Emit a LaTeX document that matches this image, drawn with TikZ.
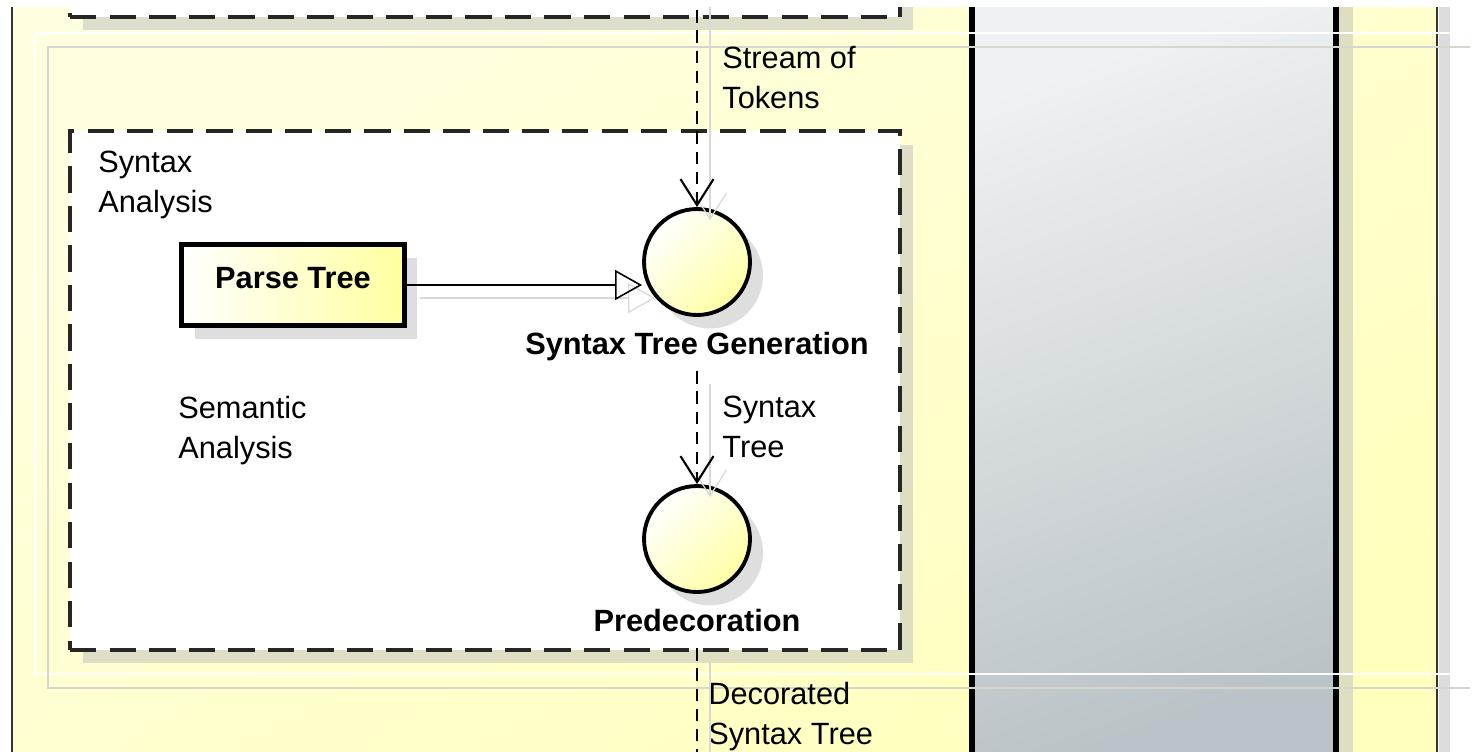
\documentclass[tikz,border=0pt]{standalone}
\usepackage{fontspec}
\setmainfont{Liberation Sans}
\usetikzlibrary{arrows.meta,positioning,shadows}
\definecolor{laneyellowlt}{RGB}{255,255,224}
\definecolor{laneyellowdk}{RGB}{255,255,190}
\definecolor{lanegraylt}{RGB}{239,241,242}
\definecolor{lanegraydk}{RGB}{186,195,199}
\definecolor{objyellow}{RGB}{255,255,160}
\definecolor{actyellow}{RGB}{255,255,165}
\definecolor{shadowgray}{RGB}{190,190,190}
\definecolor{framegray}{RGB}{214,214,204}
\definecolor{khaki}{RGB}{222,222,192}
\definecolor{edgegray}{RGB}{220,220,220}
\newcommand{\dgmfont}{\fontsize{17.5pt}{22.5pt}\selectfont}
\tikzset{
  font=\dgmfont,
  umlshadow/.style={drop shadow={shadow xshift=0.26cm, shadow yshift=-0.27cm,
                    fill=shadowgray, opacity=0.5}},
  region/.style={draw=black!85, dash pattern=on 15pt off 7.5pt,
                 line width=1.9pt, fill=white, umlshadow},
  objbox/.style={draw, line width=2.8pt, left color=white, right color=objyellow,
                 minimum width=4.46cm, minimum height=1.62cm, font=\dgmfont\bfseries,
                 text height=0.44cm, text depth=0.32cm, umlshadow},
  action/.style={circle, draw, line width=2.2pt, inner sep=0pt, minimum size=2.12cm,
                 top color=white, bottom color=actyellow, shading angle=45, umlshadow},
  caption/.style={font=\dgmfont\bfseries, inner sep=0pt},
  lbl/.style={align=left, inner sep=0pt, anchor=north west},
  flowshadow/.style={preaction={draw=shadowgray!60, solid, line width=0.7pt,
                     transform canvas={shift={(0.26cm,-0.26cm)}}}},
  flow/.style={-{Straight Barb[length=0.52cm, width=0.66cm]}, line width=1.2pt,
               dash pattern=on 7pt off 4.5pt, flowshadow},
  objarr/.style={-{Triangle[open, length=0.54cm, width=0.6cm]}, line width=0.9pt, flowshadow},
}

\begin{document}
\begin{tikzpicture}[x=0.02cm, y=-0.02cm]
  \useasboundingbox (0,0) rectangle (1476,751);
  \clip (0,7) rectangle (1476,751);
  % swimlanes
  \fill[top color=laneyellowlt, bottom color=laneyellowdk, shading angle=30] (13,7) rectangle (1437,760);
  \fill[top color=lanegraylt, bottom color=lanegraydk, shading angle=20] (972,7) rectangle (1336,760);
  \fill[khaki] (1339,7) rectangle (1353,760);
  \fill[edgegray] (1439,7) rectangle (1450,760);
  \draw[black!80, line width=1.2pt] (12,7) -- (12,760);
  \draw[black!80, line width=1.2pt] (1437,7) -- (1437,760);
  \draw[line width=3.4pt] (972,7) -- (972,760);
  \draw[line width=3.4pt] (1336,7) -- (1336,760);
  \draw[white, line width=1.2pt] (1450,33) -- (35,33) -- (35,674) -- (1450,674);
  \draw[framegray, line width=1.1pt] (1470,47) -- (48,47) -- (48,688) -- (1470,688);

  % partitions
  \node[region, minimum width=16.6cm, minimum height=4cm] (lexframe) at (485,-83) {};
  \node[region, minimum width=16.6cm, minimum height=10.38cm] (synframe) at (485,390.5) {};

  \node[objbox] (parse) at (293,285) {Parse Tree};
  \node[action] (stg) at (697,262) {};
  \node[caption, below=0.3cm of stg] (stglbl) {Syntax Tree Generation};
  \node[action] (pre) at (697,539) {};
  \node[caption, below=0.3cm of pre] (prelbl) {Predecoration};

  \node[lbl] (synlbl) at (98,151) {Syntax\\Analysis};
  \node[lbl] (semlbl) at (178,396) {Semantic\\Analysis};
  \node[lbl] (toklbl) at (722,46) {Stream of\\Tokens};
  \node[lbl] (treelbl) at (722,396) {Syntax\\Tree};
  \node[lbl] (declbl) at (708,682) {Decorated\\Syntax Tree};

  \coordinate (tokin) at (697,-10);
  \coordinate (decout) at (697,770);
  \draw[flow] (tokin) -- (stg);
  \draw[objarr] (parse.east) -- (parse.east -| stg.west);
  \draw[flow, shorten <=0.2cm] (stglbl) -- (pre);
  \draw[flow, -, shorten <=0.32cm] (prelbl) -- (decout);
\end{tikzpicture}
\end{document}
